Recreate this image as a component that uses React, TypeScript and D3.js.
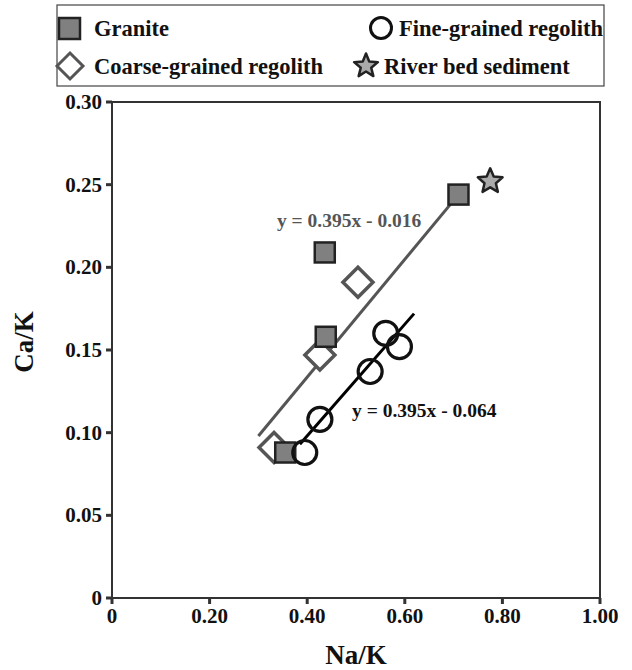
import React from "react";
import * as d3 from "d3";

const graniteX = [0.71, 0.436, 0.438, 0.355];
const graniteY = [0.244, 0.209, 0.158, 0.088];
const coarseX = [0.504, 0.426, 0.332];
const coarseY = [0.191, 0.147, 0.091];
const fineX = [0.561, 0.589, 0.529, 0.426, 0.395];
const fineY = [0.160, 0.152, 0.137, 0.108, 0.088];
const riverX = [0.775];
const riverY = [0.252];
const grayLineX = [0.30, 0.71];
const grayLineY = [0.098, 0.244];
const blackLineX = [0.385, 0.619];
const blackLineY = [0.093, 0.172];
const xTicks = [0, 0.2, 0.4, 0.6, 0.8, 1.0];
const xTickLabels = ["0", "0.20", "0.40", "0.60", "0.80", "1.00"];
const yTicks = [0, 0.05, 0.1, 0.15, 0.2, 0.25, 0.3];
const yTickLabels = ["0", "0.05", "0.10", "0.15", "0.20", "0.25", "0.30"];
const eqGray = "y = 0.395x - 0.016";
const eqBlack = "y = 0.395x - 0.064";
const eqGrayPos = [0.338, 0.2245];
const eqBlackPos = [0.492, 0.1095];

const W = 632, H = 670;
const L = 112, R = 600, T = 102, B = 598;
const FONT = "'Liberation Serif', 'Times New Roman', serif";

function starPath(cx: number, cy: number, ro: number, ri: number) {
  const pts: string[] = [];
  for (let i = 0; i < 10; i++) {
    const a = -Math.PI / 2 + (i * Math.PI) / 5;
    const r = i % 2 === 0 ? ro : ri;
    pts.push(`${cx + r * Math.cos(a)},${cy + r * Math.sin(a)}`);
  }
  return "M" + pts.join("L") + "Z";
}

export default function App() {
  const x = d3.scaleLinear().domain([0, 1]).range([L, R]);
  const y = d3.scaleLinear().domain([0, 0.3]).range([B, T]);
  const line = d3.line<[number, number]>().x((d) => x(d[0])).y((d) => y(d[1]));
  const grayPts = grayLineX.map((v, i) => [v, grayLineY[i]] as [number, number]);
  const blackPts = blackLineX.map((v, i) => [v, blackLineY[i]] as [number, number]);
  const axisColor = "#333";
  const sq = 10;
  const dm = 15;
  const LF = 22.5;

  return (
    <svg width={W} height={H} style={{ position: "absolute", left: 0, top: 0, background: "#fff" }} fontFamily={FONT}>
      <rect x={0} y={0} width={W} height={H} fill="#fff" />
      {/* legend */}
      <rect x={57} y={5} width={547} height={81} fill="#fff" stroke="#444" strokeWidth={1.2} />
      <rect x={59} y={18} width={21} height={21} fill="#808080" stroke="#222" strokeWidth={2.5} />
      <text x={94} y={36} fontSize={LF} fontWeight="bold" fill="#111">Granite</text>
      <circle cx={381} cy={28} r={10.5} fill="#fff" stroke="#111" strokeWidth={3} />
      <text x={399} y={36} fontSize={LF} fontWeight="bold" fill="#111">Fine-grained regolith</text>
      <path d={`M${70 - 13},66L70,${66 - 13}L${70 + 13},66L70,${66 + 13}Z`} fill="#fff" stroke="#555" strokeWidth={3} />
      <text x={94} y={74} fontSize={LF} fontWeight="bold" fill="#111">Coarse-grained regolith</text>
      <path d={starPath(366, 66, 12.5, 5.5)} fill="#aaa" stroke="#222" strokeWidth={2.5} strokeLinejoin="round" />
      <text x={384} y={74} fontSize={LF} fontWeight="bold" fill="#111">River bed sediment</text>

      {/* frame */}
      <rect x={L} y={T} width={R - L} height={B - T} fill="none" stroke={axisColor} strokeWidth={2} />
      {xTicks.map((t, i) => (
        <g key={"xt" + i}>
          <line x1={x(t)} x2={x(t)} y1={B} y2={B + 6} stroke={axisColor} strokeWidth={3} />
          <text x={x(t)} y={B + 25} fontSize={21} fontWeight="bold" textAnchor="middle" fill="#111">{xTickLabels[i]}</text>
        </g>
      ))}
      {yTicks.map((t, i) => (
        <g key={"yt" + i}>
          <line x1={L - 6} x2={L} y1={y(t)} y2={y(t)} stroke={axisColor} strokeWidth={3} />
          <text x={L - 10} y={y(t) + 7} fontSize={21} fontWeight="bold" textAnchor="end" fill="#111">{yTickLabels[i]}</text>
        </g>
      ))}
      <text x={356} y={664} fontSize={27} fontWeight="bold" textAnchor="middle" fill="#111">Na/K</text>
      <text transform={`translate(33,${342}) rotate(-90)`} fontSize={27} fontWeight="bold" textAnchor="middle" fill="#111">Ca/K</text>

      {/* trend lines */}
      <path d={line(grayPts) || ""} stroke="#555" strokeWidth={3} fill="none" />
      <path d={line(blackPts) || ""} stroke="#000" strokeWidth={3} fill="none" />

      {/* markers */}
      {coarseX.map((v, i) => (
        <path key={"c" + i}
          d={`M${x(v) - dm},${y(coarseY[i])}L${x(v)},${y(coarseY[i]) - dm}L${x(v) + dm},${y(coarseY[i])}L${x(v)},${y(coarseY[i]) + dm}Z`}
          fill="#fff" stroke="#555" strokeWidth={3.5} />
      ))}
      {graniteX.map((v, i) => (
        <rect key={"g" + i} x={x(v) - sq} y={y(graniteY[i]) - sq} width={sq * 2} height={sq * 2}
          fill="#808080" stroke="#222" strokeWidth={2.5} />
      ))}
      {fineX.map((v, i) => (
        <circle key={"f" + i} cx={x(v)} cy={y(fineY[i])} r={12} fill="none" stroke="#111" strokeWidth={3.2} />
      ))}
      {riverX.map((v, i) => (
        <path key={"r" + i} d={starPath(x(v), y(riverY[i]), 13, 6)} fill="#aaa" stroke="#222" strokeWidth={2.5} strokeLinejoin="round" />
      ))}

      <text x={x(eqGrayPos[0])} y={y(eqGrayPos[1])} fontSize={19.5} fontWeight="bold" fill="#555">{eqGray}</text>
      <text x={x(eqBlackPos[0])} y={y(eqBlackPos[1])} fontSize={19.5} fontWeight="bold" fill="#111">{eqBlack}</text>
    </svg>
  );
}
